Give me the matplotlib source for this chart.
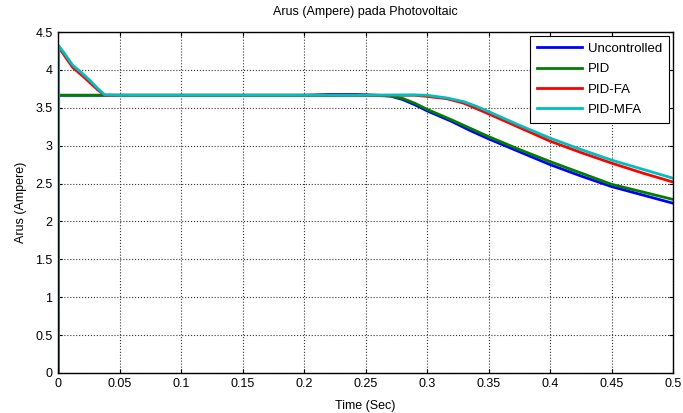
import matplotlib
matplotlib.use("Agg")
import matplotlib.pyplot as plt

plt.rcParams['font.family'] = ['Liberation Sans', 'DejaVu Sans']

# Time axis (s) and currents (A)
t_ctrl = [0, 0.0005, 0.05, 0.1, 0.15, 0.2, 0.22, 0.243, 0.26, 0.27, 0.28, 0.29, 0.30,
          0.31, 0.32, 0.335, 0.35, 0.375, 0.40, 0.425, 0.45, 0.475, 0.50]
uncontrolled = [0, 3.665, 3.665, 3.665, 3.665, 3.665, 3.675, 3.675, 3.665, 3.655, 3.61,
                3.54, 3.46, 3.39, 3.32, 3.20, 3.09, 2.92, 2.75, 2.60, 2.46, 2.35, 2.24]
pid = [0, 3.665, 3.665, 3.665, 3.665, 3.665, 3.66, 3.665, 3.66, 3.655, 3.625,
       3.56, 3.48, 3.41, 3.34, 3.23, 3.12, 2.95, 2.79, 2.64, 2.49, 2.39, 2.29]

t_fa = [0, 0.0005, 0.006, 0.012, 0.02, 0.026, 0.032, 0.038, 0.05, 0.1, 0.15, 0.2,
        0.25, 0.29, 0.30, 0.316, 0.33, 0.34, 0.35, 0.375, 0.40, 0.425, 0.45, 0.475, 0.50]
pid_fa = [0, 4.30, 4.17, 4.03, 3.92, 3.83, 3.74, 3.665, 3.665, 3.665, 3.665, 3.665,
          3.665, 3.665, 3.65, 3.62, 3.56, 3.49, 3.42, 3.24, 3.06, 2.91, 2.77, 2.64, 2.52]
pid_mfa = [0, 4.32, 4.20, 4.06, 3.95, 3.86, 3.76, 3.67, 3.665, 3.665, 3.665, 3.665,
           3.665, 3.67, 3.665, 3.63, 3.58, 3.52, 3.45, 3.27, 3.10, 2.95, 2.81, 2.69, 2.57]

labels = ['Uncontrolled', 'PID', 'PID-FA', 'PID-MFA']
colors = ['#0000ff', '#008000', '#ff0000', '#00bfbf']

fig = plt.figure(figsize=(6.83, 4.13), dpi=100)
ax = fig.add_axes([0.085, 0.097, 0.9004, 0.8255])

ax.plot(t_ctrl, uncontrolled, color=colors[0], lw=2, label=labels[0])
ax.plot(t_ctrl, pid, color=colors[1], lw=2, label=labels[1])
ax.plot(t_fa, pid_fa, color=colors[2], lw=2, label=labels[2])
ax.plot(t_fa, pid_mfa, color=colors[3], lw=2, label=labels[3])

ax.set_xlim(0, 0.5)
ax.set_ylim(0, 4.5)
xt = [0, 0.05, 0.1, 0.15, 0.2, 0.25, 0.3, 0.35, 0.4, 0.45, 0.5]
yt = [0, 0.5, 1, 1.5, 2, 2.5, 3, 3.5, 4, 4.5]
ax.set_xticks(xt)
ax.set_xticklabels(['0', '0.05', '0.1', '0.15', '0.2', '0.25', '0.3', '0.35', '0.4', '0.45', '0.5'])
ax.set_yticks(yt)
ax.set_yticklabels(['0', '0.5', '1', '1.5', '2', '2.5', '3', '3.5', '4', '4.5'])
ax.tick_params(direction='in', top=True, right=True, labelsize=9, length=3, pad=4, width=0.8)
ax.grid(True, color='#333333', linestyle=':', linewidth=0.8)
for s in ax.spines.values():
    s.set_linewidth(1.0)

ax.set_title('Arus (Ampere) pada Photovoltaic', fontsize=9, pad=12)
ax.set_xlabel('Time (Sec)', fontsize=9, labelpad=7)
ax.set_ylabel('Arus (Ampere)', fontsize=9, labelpad=6)

leg = ax.legend(loc='upper right', fontsize=9.5, fancybox=False, edgecolor='black',
                framealpha=1, borderaxespad=0.3, handlelength=3.4, handletextpad=0.5,
                labelspacing=0.62, borderpad=0.5)
leg.get_frame().set_linewidth(0.8)

fig.savefig('out.png', dpi=100)
